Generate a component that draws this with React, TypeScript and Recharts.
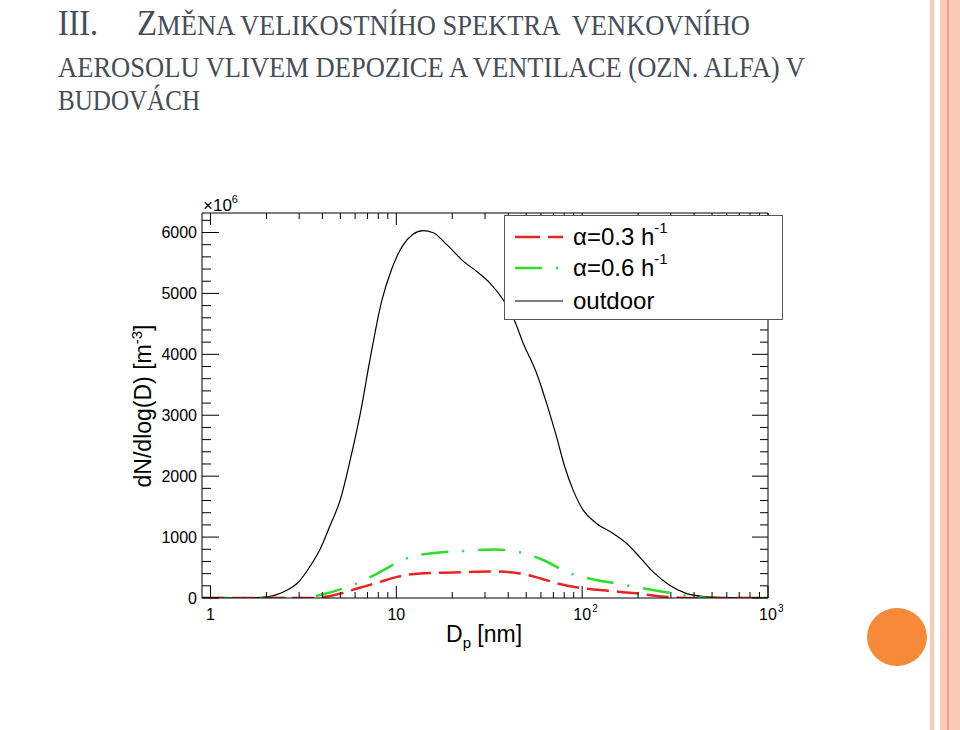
import { LineChart, Line, XAxis, YAxis, Legend } from "recharts"

// particle diameter [nm] / number concentration dN/dlog(D) [x10^6 m^-3]
const OUTDOOR_D = [0.9, 1.4, 1.75, 2.0, 2.25, 2.5, 2.95, 3.45, 3.9, 4.4, 5.0, 5.65, 6.4, 7.25, 8.3, 9.5, 10.8, 12.3, 13.9, 15.8, 18.7, 22.9, 27.1, 31.9, 37.6, 43, 48.1, 56.8, 64.3, 72.7, 80.5, 89.3, 101, 119, 146, 173, 203, 240, 294, 362, 464, 594, 750, 1000]
const OUTDOOR_N = [0, 0, 5, 18, 52, 108, 250, 530, 810, 1190, 1620, 2270, 3030, 3950, 4850, 5420, 5780, 5970, 6030, 5995, 5800, 5530, 5360, 5170, 4895, 4570, 4186, 3693, 3200, 2652, 2158, 1775, 1447, 1228, 1064, 899, 679, 432, 214, 77, 21, 5, 0, 0]

const A03_D = [0.9, 3.6, 4.8, 6.15, 8.2, 10.1, 13.4, 20.3, 31.9, 42.5, 51.2, 59.2, 75.7, 101, 141, 195, 261, 334, 420, 1000]
const A03_N = [0, 0, 60, 155, 265, 347, 403, 420, 436, 420, 376, 324, 230, 160, 115, 77, 28, 5, 0, 0]

const A06_D = [0.9, 3.05, 4.42, 6.4, 7.87, 10.1, 11.9, 16.5, 23.4, 33.2, 46.2, 61.6, 85.7, 119, 159, 212, 271, 362, 464, 600, 1000]
const A06_N = [0, 0, 93, 265, 400, 580, 673, 744, 773, 797, 750, 624, 406, 296, 230, 159, 104, 44, 5, 0, 0]

const X_TICKS = [1, 2, 3, 4, 5, 6, 7, 8, 9, 10, 20, 30, 40, 50, 60, 70, 80, 90, 100, 200, 300, 400, 500, 600, 700, 800, 900, 1000]
const X_DECADES = [1, 10, 100, 1000]
const X_BASES = ["1", "10", "10", "10"]
const X_EXPS = ["", "", "2", "3"]

const Y_TICKS = [0, 200, 400, 600, 800, 1000, 1200, 1400, 1600, 1800, 2000, 2200, 2400, 2600, 2800, 3000, 3200, 3400, 3600, 3800, 4000, 4200, 4400, 4600, 4800, 5000, 5200, 5400, 5600, 5800, 6000, 6200]
const Y_LABELED = [0, 1000, 2000, 3000, 4000, 5000, 6000]

const toPoints = (d: number[], n: number[]) => d.map((v, i) => ({ d: v, n: n[i] }))

const SANS = "'Liberation Sans', Arial, sans-serif"
const SERIF = "'Liberation Serif', 'Times New Roman', serif"
const TITLE_COLOR = "#454d58"
const RED = "#e82525"
const GREEN = "#2bdc2b"

function BottomTick({ x, y, payload }: any) {
  const i = X_DECADES.indexOf(payload.value)
  return (
    <g>
      <line x1={x} y1={y} x2={x} y2={y - (i >= 0 ? 12 : 6)} stroke="#000" />
      {i >= 0 && (
        <text x={x} y={y + 22} textAnchor="middle" fontSize={16} fontFamily={SANS} fill="#000">
          {X_BASES[i]}
        </text>
      )}
      {i >= 0 && X_EXPS[i] && (
        <text x={x + 10} y={y + 14} fontSize={10} fontFamily={SANS} fill="#000">
          {X_EXPS[i]}
        </text>
      )}
    </g>
  )
}

function TopTick({ x, y, payload }: any) {
  const major = X_DECADES.includes(payload.value)
  return <line x1={x} y1={y} x2={x} y2={y + (major ? 12 : 6)} stroke="#000" />
}

function LeftTick({ x, y, payload }: any) {
  const major = Y_LABELED.includes(payload.value)
  return (
    <g>
      <line x1={x} y1={y} x2={x + (major ? 17 : 9)} y2={y} stroke="#000" />
      {major && (
        <text x={x - 5} y={y + 6} textAnchor="end" fontSize={16} fontFamily={SANS} fill="#000">
          {payload.value}
        </text>
      )}
    </g>
  )
}

function RightTick({ x, y, payload }: any) {
  const major = Y_LABELED.includes(payload.value)
  return <line x1={x} y1={y} x2={x - (major ? 16 : 8)} y2={y} stroke="#000" />
}

function XTitle({ viewBox }: any) {
  const cx = viewBox.x + viewBox.width / 2
  return (
    <text x={cx - 39} y={viewBox.y + 44} fontSize={23} fontFamily={SANS} fill="#000">
      D<tspan dy={6} fontSize={15}>p</tspan>
      <tspan dy={-6}> [nm]</tspan>
    </text>
  )
}

function YTitle({ viewBox }: any) {
  const cy = viewBox.y + 193
  const cx = viewBox.x - 50
  return (
    <text transform={`translate(${cx},${cy}) rotate(-90)`} textAnchor="middle" fontSize={23} fontFamily={SANS} fill="#000">
      dN/dlog(D) [m<tspan dy={-9} fontSize={15}>-3</tspan>
      <tspan dy={9}>]</tspan>
    </text>
  )
}

function Multiplier({ viewBox }: any) {
  return (
    <text x={viewBox.x + 1} y={viewBox.y - 1} fontSize={17} fontFamily={SANS} fill="#000">
      ×10<tspan dy={-8} fontSize={11}>6</tspan>
    </text>
  )
}

const LEGEND_ROWS = [
  { label: "α=0.3 h", sup: "-1", color: RED, dash: "25 8", width: 2.5 },
  { label: "α=0.6 h", sup: "-1", color: GREEN, dash: "27 14 2 14", width: 2.5 },
  { label: "outdoor", sup: "", color: "#000", dash: "", width: 1.2 },
]

function LegendBox() {
  return (
    <div style={{ position: "relative", width: 279, height: 105, border: "1px solid #555", background: "#fff", boxSizing: "border-box", fontFamily: SANS, fontSize: 24, color: "#000" }}>
      {LEGEND_ROWS.map((r, i) => (
        <div key={r.label + i} style={{ position: "absolute", left: 10, top: [8, 39, 72][i], height: 26, display: "flex", alignItems: "center", whiteSpace: "nowrap" }}>
          <svg width={50} height={10} style={{ marginRight: 8 }}>
            <line x1={0} y1={5} x2={48} y2={5} stroke={r.color} strokeWidth={r.width} strokeDasharray={r.dash || undefined} />
          </svg>
          <span>
            {r.label}
            {r.sup && <sup style={{ fontSize: 15, verticalAlign: "top", position: "relative", top: -4 }}>{r.sup}</sup>}
          </span>
        </div>
      ))}
    </div>
  )
}

function Title() {
  return (
    <svg width={960} height={130} style={{ position: "absolute", left: 0, top: 0 }}>
      <g fontFamily={SERIF} fill={TITLE_COLOR}>
        <text x={58} y={35} fontSize={36} textLength={40} lengthAdjust="spacingAndGlyphs">III.</text>
        <text x={137} y={35} textLength={613} lengthAdjust="spacingAndGlyphs" style={{ whiteSpace: "pre" }}>
          <tspan fontSize={36}>Z</tspan>
          <tspan fontSize={29}>MĚNA VELIKOSTNÍHO SPEKTRA  VENKOVNÍHO</tspan>
        </text>
        <text x={58} y={77} fontSize={29} textLength={747} lengthAdjust="spacingAndGlyphs">
          AEROSOLU VLIVEM DEPOZICE A VENTILACE (OZN. ALFA) V
        </text>
        <text x={58} y={110} fontSize={29} textLength={142} lengthAdjust="spacingAndGlyphs">
          BUDOVÁCH
        </text>
      </g>
    </svg>
  )
}

export default function App() {
  return (
    <div style={{ position: "absolute", left: 0, top: 0, width: 960, height: 730, background: "#fff", overflow: "hidden" }}>
      <Title />

      <div style={{ position: "absolute", left: 930, top: 0, width: 4, height: 730, background: "#f9cbb8" }} />
      <div style={{ position: "absolute", left: 940, top: 0, width: 7, height: 730, background: "#f9cbb8" }} />
      <div style={{ position: "absolute", left: 947, top: 0, width: 2, height: 730, background: "#eea286" }} />
      <div style={{ position: "absolute", left: 949, top: 0, width: 11, height: 730, background: "#f9cbb8" }} />
      <div style={{ position: "absolute", left: 867, top: 608, width: 60, height: 58, borderRadius: "50%", background: "#f78a38" }} />

      <div style={{ position: "absolute", left: 0, top: 0 }}>
        <LineChart width={960} height={730} margin={{ top: 212, right: 191, bottom: 131, left: 201 }}>
          <XAxis
            xAxisId="bottom"
            dataKey="d"
            type="number"
            scale="log"
            domain={[0.9, 1000]}
            allowDataOverflow
            ticks={X_TICKS}
            interval={0}
            height={1}
            tickSize={0}
            tickMargin={0}
            tickLine={false}
            axisLine={{ stroke: "#000" }}
            tick={<BottomTick />}
            label={{ content: <XTitle /> }}
          />
          <XAxis
            xAxisId="top"
            orientation="top"
            dataKey="d"
            type="number"
            scale="log"
            domain={[0.9, 1000]}
            allowDataOverflow
            ticks={X_TICKS}
            interval={0}
            height={1}
            tickSize={0}
            tickMargin={0}
            tickLine={false}
            axisLine={{ stroke: "#000" }}
            tick={<TopTick />}
            label={{ content: <Multiplier /> }}
          />
          <YAxis
            yAxisId="left"
            type="number"
            domain={[0, 6320]}
            allowDataOverflow
            ticks={Y_TICKS}
            interval={0}
            width={1}
            tickSize={0}
            tickMargin={0}
            tickLine={false}
            axisLine={{ stroke: "#000" }}
            tick={<LeftTick />}
            label={{ content: <YTitle /> }}
          />
          <YAxis
            yAxisId="right"
            orientation="right"
            type="number"
            domain={[0, 6320]}
            allowDataOverflow
            ticks={Y_TICKS}
            interval={0}
            width={1}
            tickSize={0}
            tickMargin={0}
            tickLine={false}
            axisLine={{ stroke: "#000" }}
            tick={<RightTick />}
          />
          <Line
            xAxisId="bottom"
            yAxisId="left"
            data={toPoints(OUTDOOR_D, OUTDOOR_N)}
            dataKey="n"
            name="outdoor"
            type="monotone"
            stroke="#000"
            strokeWidth={1.2}
            dot={false}
            activeDot={false}
            isAnimationActive={false}
          />
          <Line
            xAxisId="bottom"
            yAxisId="left"
            data={toPoints(A06_D, A06_N)}
            dataKey="n"
            name="α=0.6 h-1"
            type="monotone"
            stroke={GREEN}
            strokeWidth={2.5}
            strokeDasharray="27 14 2 14"
            dot={false}
            activeDot={false}
            isAnimationActive={false}
          />
          <Line
            xAxisId="bottom"
            yAxisId="left"
            data={toPoints(A03_D, A03_N)}
            dataKey="n"
            name="α=0.3 h-1"
            type="monotone"
            stroke={RED}
            strokeWidth={2.5}
            strokeDasharray="22 8"
            dot={false}
            activeDot={false}
            isAnimationActive={false}
          />
          <Legend
            content={<LegendBox />}
            layout="vertical"
            align="center"
            verticalAlign="middle"
            wrapperStyle={{ left: 504, top: 215, width: 279, height: 105 }}
          />
        </LineChart>
      </div>
    </div>
  )
}
